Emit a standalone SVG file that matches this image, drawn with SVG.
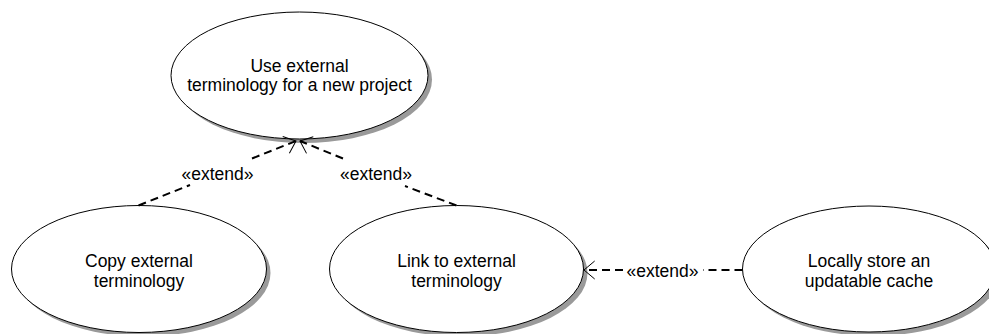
<svg xmlns="http://www.w3.org/2000/svg" width="989" height="334" viewBox="0 0 989 334">
<style>
.shadow{fill:#9a9a9a;stroke:none}
.uc{fill:#ffffff;stroke:#000000;stroke-width:1}
.t{font-family:"Liberation Sans",Arial,sans-serif;font-size:17.5px;fill:#000000;text-anchor:middle}
.dash{fill:none;stroke:#000000;stroke-width:2;stroke-dasharray:8 5}
</style>
<defs>
<marker id="open" markerUnits="userSpaceOnUse" markerWidth="30" markerHeight="30" refX="15" refY="15" orient="auto" viewBox="0 0 30 30" overflow="visible">
<path d="M4.3,6 L15,15 L4.3,24" fill="none" stroke="#000000" stroke-width="1"/>
</marker>
</defs>
<rect width="989" height="334" fill="#ffffff"/>
<g id="uc-use">
<ellipse class="shadow" cx="303.5" cy="79.5" rx="128.5" ry="63.5"/>
<ellipse class="uc" cx="299.5" cy="75.5" rx="128.5" ry="63.5"/>
<text class="t" x="299.5" y="72">Use external</text>
<text class="t" x="299.5" y="91">terminology for a new project</text>
</g>
<g id="uc-copy">
<ellipse class="shadow" cx="143" cy="273" rx="127.5" ry="63.5"/>
<ellipse class="uc" cx="139" cy="269" rx="127.5" ry="63.5"/>
<text class="t" x="139" y="266.5">Copy external</text>
<text class="t" x="139" y="286.5">terminology</text>
</g>
<g id="uc-link">
<ellipse class="shadow" cx="460.5" cy="273" rx="127" ry="63.5"/>
<ellipse class="uc" cx="456.5" cy="269" rx="127" ry="63.5"/>
<text class="t" x="456.5" y="266.5">Link to external</text>
<text class="t" x="456.5" y="286.5">terminology</text>
</g>
<g id="uc-store">
<ellipse class="shadow" cx="873" cy="273" rx="126.5" ry="63"/>
<ellipse class="uc" cx="869" cy="269" rx="126.5" ry="63"/>
<text class="t" x="869" y="266.5">Locally store an</text>
<text class="t" x="869" y="286.5">updatable cache</text>
</g>
<g id="connectors">
<line class="dash" x1="138.5" y1="205.5" x2="190" y2="185"/>
<line class="dash" x1="252" y1="158.5" x2="296" y2="141" marker-end="url(#open)"/>
<text class="t" x="217.5" y="180">«extend»</text>
<line class="dash" x1="456.5" y1="205.5" x2="405" y2="186"/>
<line class="dash" x1="343" y1="158.5" x2="300" y2="141" marker-end="url(#open)"/>
<text class="t" x="376" y="180">«extend»</text>
<line class="dash" x1="742.5" y1="270" x2="703" y2="270"/>
<line class="dash" x1="623" y1="270" x2="584" y2="270" marker-end="url(#open)"/>
<text class="t" x="662.5" y="276.5">«extend»</text>
</g>
</svg>
